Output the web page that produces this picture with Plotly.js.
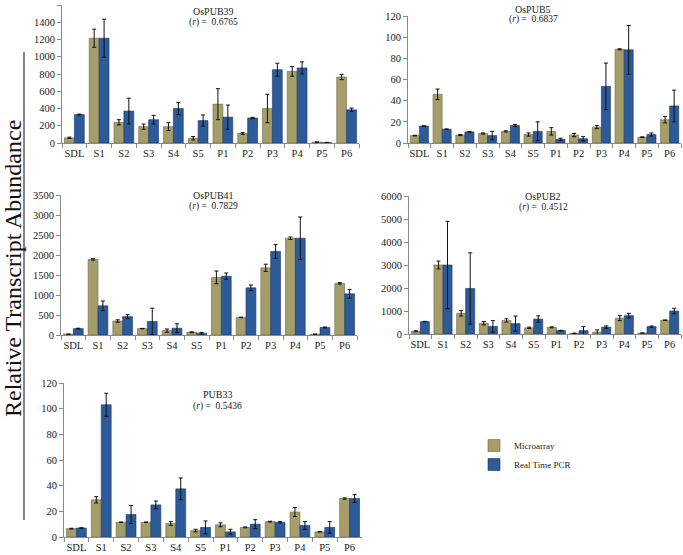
<!DOCTYPE html>
<html>
<head>
<meta charset="utf-8">
<script src="https://cdn.plot.ly/plotly-3.0.1.min.js"></script>
<style>html,body{margin:0;padding:0;background:#fff;}#chart{width:683px;height:555px;}</style>
</head>
<body>
<div id="chart"></div>
<script>
const categories = ["SDL","S1","S2","S3","S4","S5","P1","P2","P3","P4","P5","P6"];

const pub39Micro    = [60, 1215, 240, 190, 190, 55, 450, 110, 400, 830, 10, 765];
const pub39MicroErr = [8, 105, 30, 30, 45, 20, 180, 10, 165, 55, 3, 30];
const pub39Pcr      = [330, 1215, 370, 270, 400, 260, 300, 290, 850, 870, 5, 385];
const pub39PcrErr   = [5, 220, 150, 50, 70, 65, 140, 8, 75, 70, 2, 20];

const pub5Micro     = [7, 46, 7.5, 9, 11, 8, 11, 7.5, 15, 88.5, 5.5, 22];
const pub5MicroErr  = [0.3, 5, 0.5, 0.5, 0.5, 1.5, 3.5, 1.5, 1.5, 0.5, 0.3, 3];
const pub5Pcr       = [16, 13, 10.5, 7, 16.5, 11, 3.5, 4, 53.5, 88, 8, 35];
const pub5PcrErr    = [0.3, 0.3, 0.5, 4, 1, 9, 1, 2, 22, 23, 1.5, 15];

const pub41Micro    = [20, 1890, 350, 160, 110, 70, 1440, 440, 1680, 2420, 20, 1290];
const pub41MicroErr = [5, 20, 30, 5, 40, 10, 160, 5, 90, 30, 2, 20];
const pub41Pcr      = [160, 730, 460, 340, 170, 45, 1470, 1180, 2090, 2420, 190, 1030];
const pub41PcrErr   = [10, 120, 50, 330, 110, 20, 80, 70, 170, 530, 10, 110];

const pub2Micro     = [120, 3000, 900, 470, 590, 270, 290, 30, 80, 690, 40, 600];
const pub2MicroErr  = [20, 170, 120, 70, 70, 30, 20, 5, 100, 110, 5, 10];
const pub2Pcr       = [540, 3000, 1980, 330, 450, 650, 150, 150, 300, 800, 320, 1000];
const pub2PcrErr    = [10, 1900, 1550, 250, 330, 140, 10, 170, 50, 100, 30, 120];

const pub33Micro    = [6.5, 29, 11.5, 11.5, 10.5, 5, 9.5, 7.5, 12, 19.5, 4, 30];
const pub33MicroErr = [0.3, 2.5, 0.2, 0.2, 1.5, 1, 1.5, 0.3, 0.3, 3.5, 0.2, 0.5];
const pub33Pcr      = [7, 103, 17.5, 25, 37.5, 7.5, 4, 10, 11.5, 9, 7.5, 30];
const pub33PcrErr   = [0.2, 9, 7, 3, 8.5, 5, 2, 3.5, 0.5, 3, 4.5, 3];

const panelNames = ["OsPUB39", "OsPUB5", "OsPUB41", "OsPUB2", "PUB33"];
const panelR     = ["0.6765", "0.6837", "0.7829", "0.4512", "0.5436"];
const seriesNames = ["Microarray", "Real Time PCR"];

const W = 683, H = 555;
const px = v => v / W;
const py = v => 1 - v / H;

// pixel layout of each panel: [left, right, bottomY(0), topY(max)]
const boxes = [
  [62, 359, 143, 5],
  [408, 681, 143, 16],
  [61, 357, 335, 195],
  [409, 681, 334, 196],
  [64, 362, 537, 383]
];
const ranges = [[0,1600,200],[0,120,20],[0,3500,500],[0,6000,1000],[0,120,20]];

const data = [
  [pub39Micro, pub39MicroErr, pub39Pcr, pub39PcrErr],
  [pub5Micro, pub5MicroErr, pub5Pcr, pub5PcrErr],
  [pub41Micro, pub41MicroErr, pub41Pcr, pub41PcrErr],
  [pub2Micro, pub2MicroErr, pub2Pcr, pub2PcrErr],
  [pub33Micro, pub33MicroErr, pub33Pcr, pub33PcrErr]
];

const olive = "#a59d6a";
const blue = "#2d5a98";
const serif = "Liberation Serif, Times New Roman, serif";

const traces = [];
const layout = {
  width: W, height: H,
  margin: {l:0, r:0, t:0, b:0},
  paper_bgcolor: "#fff", plot_bgcolor: "rgba(0,0,0,0)",
  barmode: "group",
  bargap: 0.2, bargroupgap: 0,
  showlegend: true,
  legend: {x: px(474), y: py(431), xanchor: "left", yanchor: "top",
           font: {family: serif, size: 9, color: "#222"}, tracegroupgap: 0,
           bgcolor: "rgba(0,0,0,0)"},
  font: {family: serif, color: "#222"},
  annotations: [],
  shapes: []
};

data.forEach((d, i) => {
  const n = i + 1;
  const xa = "x" + (n === 1 ? "" : n);
  const ya = "y" + (n === 1 ? "" : n);
  traces.push({
    type: "bar", x: categories, y: d[0], name: seriesNames[0],
    xaxis: xa, yaxis: ya, legendgroup: "m", showlegend: i === 0,
    marker: {color: olive, line: {color: "#6f6944", width: 0.6}},
    error_y: {type: "data", array: d[1], visible: true, color: "#111", thickness: 1, width: 2}
  });
  traces.push({
    type: "bar", x: categories, y: d[2], name: seriesNames[1],
    xaxis: xa, yaxis: ya, legendgroup: "p", showlegend: i === 0,
    marker: {color: blue, line: {color: "#1b3866", width: 0.6}},
    error_y: {type: "data", array: d[3], visible: true, color: "#111", thickness: 1, width: 2}
  });
  const b = boxes[i];
  const xk = "xaxis" + (n === 1 ? "" : n);
  const yk = "yaxis" + (n === 1 ? "" : n);
  layout[xk] = {
    domain: [px(b[0]), px(b[1])], anchor: ya, type: "category",
    showline: true, linecolor: "#8a8a8a", linewidth: 1,
    ticks: "outside", tickson: "boundaries", ticklen: 4, tickcolor: "#8a8a8a",
    tickangle: 0, automargin: false,
    tickfont: {family: serif, size: 10.5, color: "#222"}, showgrid: false, fixedrange: true
  };
  layout[yk] = {
    domain: [py(b[2]), py(b[3])], anchor: xa,
    range: [ranges[i][0], ranges[i][1]], dtick: ranges[i][2],
    showline: true, linecolor: "#8a8a8a", linewidth: 1,
    ticks: "outside", ticklen: 4, tickcolor: "#8a8a8a", automargin: false,
    tickfont: {family: serif, size: 10.5, color: "#222"}, showgrid: false, zeroline: false, fixedrange: true
  };
});

const titlePos = [[213, 11], [533, 9], [213, 196], [543, 197], [217, 395]];
titlePos.forEach((t, i) => {
  layout.annotations.push({
    xref: "paper", yref: "paper", x: px(t[0]), y: py(t[1]), xanchor: "center", yanchor: "middle",
    text: panelNames[i], showarrow: false, font: {family: serif, size: 10, color: "#222"}
  });
  layout.annotations.push({
    xref: "paper", yref: "paper", x: px(t[0]), y: py(t[1] + 11), xanchor: "center", yanchor: "middle",
    text: "(<i>r</i>) =  " + panelR[i], showarrow: false, font: {family: serif, size: 9.5, color: "#222"}
  });
});

layout.annotations.push({
  xref: "paper", yref: "paper", x: px(13), y: py(269), xanchor: "center", yanchor: "middle",
  text: "Relative Transcript Abundance", textangle: -90, showarrow: false,
  font: {family: serif, size: 24, color: "#111"}
});
layout.shapes.push({
  type: "line", xref: "paper", yref: "paper", x0: px(24), x1: px(24), y0: py(52), y1: py(520),
  line: {color: "#333", width: 1.2}
});

Plotly.newPlot("chart", traces, layout, {displayModeBar: false, staticPlot: true});
</script>
</body>
</html>
